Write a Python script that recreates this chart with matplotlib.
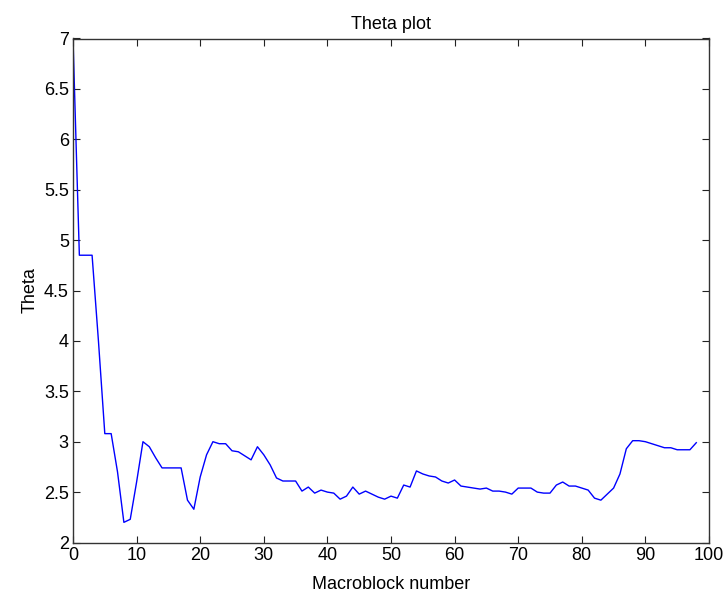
import matplotlib
matplotlib.use("Agg")
import matplotlib.pyplot as plt

# Theta value for each macroblock
macroblock = list(range(99))
theta = [7.0, 4.85, 4.85, 4.85, 4.0, 3.08, 3.08, 2.7, 2.2, 2.23,
         2.6, 3.0, 2.95, 2.84, 2.74, 2.74, 2.74, 2.74, 2.42, 2.33,
         2.65, 2.87, 3.0, 2.98, 2.98, 2.91, 2.9, 2.86, 2.82, 2.95,
         2.87, 2.77, 2.64, 2.61, 2.61, 2.61, 2.51, 2.55, 2.49, 2.52,
         2.5, 2.49, 2.43, 2.46, 2.55, 2.48, 2.51, 2.48, 2.45, 2.43,
         2.46, 2.44, 2.57, 2.55, 2.71, 2.68, 2.66, 2.65, 2.61, 2.59,
         2.62, 2.56, 2.55, 2.54, 2.53, 2.54, 2.51, 2.51, 2.5, 2.48,
         2.54, 2.54, 2.54, 2.5, 2.49, 2.49, 2.57, 2.6, 2.56, 2.56,
         2.54, 2.52, 2.44, 2.42, 2.48, 2.54, 2.68, 2.93, 3.01, 3.01,
         3.0, 2.98, 2.96, 2.94, 2.94, 2.92, 2.92, 2.92, 2.99]

yticks = [2, 2.5, 3, 3.5, 4, 4.5, 5, 5.5, 6, 6.5, 7]
ytick_labels = ['2', '2.5', '3', '3.5', '4', '4.5', '5', '5.5', '6', '6.5', '7']

plt.rcParams['font.family'] = ['Liberation Sans', 'DejaVu Sans']

fig = plt.figure(figsize=(7.25, 5.94), dpi=100)
# axes box in pixels: left 73, right 709, top 38.5, bottom 542.5
ax = fig.add_axes([73 / 725, 1 - 542.5 / 594, 636 / 725, 504 / 594])
ax.plot(macroblock, theta, color='#0000ff', linewidth=1.0)

ax.set_xlim(0, 100)
ax.set_ylim(2, 7)
ax.set_xticks(range(0, 101, 10))
ax.set_yticks(yticks)
ax.set_yticklabels(ytick_labels)
ax.tick_params(direction='in', top=True, right=True, labelsize=13,
               length=5, width=0.8, pad=3, colors='#222222', labelcolor='black')
for s in ax.spines.values():
    s.set_linewidth(1.0)
    s.set_color('#333333')

ax.set_title("Theta plot", fontsize=13, pad=7)
ax.set_xlabel("Macroblock number", fontsize=13, labelpad=9)
ax.set_ylabel("Theta", fontsize=13, labelpad=4)

fig.savefig("out.png", dpi=100)
